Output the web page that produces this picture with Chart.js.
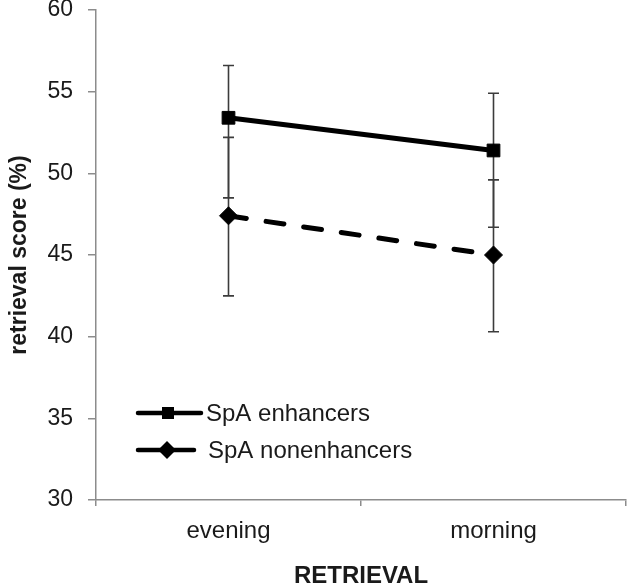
<!DOCTYPE html>
<html>
<head>
<meta charset="utf-8">
<script src="https://cdn.jsdelivr.net/npm/chart.js@4.4.1/dist/chart.umd.min.js"></script>
<style>
  html, body { margin: 0; padding: 0; background: #ffffff; }
  #wrap { width: 628px; height: 584px; }
</style>
</head>
<body>
<div id="wrap"><canvas id="c" width="628" height="584"></canvas></div>
<script>
// ---- data ----
const categories = ['evening', 'morning'];
const seriesNames = ['SpA enhancers', 'SpA nonenhancers'];
const enhancers = [53.4, 51.4];
const enhancersErrHigh = [56.6, 54.9];
const enhancersErrLow = [48.5, 46.7];
const nonenhancers = [47.4, 45.0];
const nonenhancersErrHigh = [52.2, 49.6];
const nonenhancersErrLow = [42.5, 40.3];
const yTicks = [30, 35, 40, 45, 50, 55, 60];
const xTitle = 'RETRIEVAL';
const yTitle = 'retrieval score (%)';

const errHigh = [enhancersErrHigh, nonenhancersErrHigh];
const errLow = [enhancersErrLow, nonenhancersErrLow];

const FONT = "'Liberation Sans', Arial, sans-serif";
const AXIS_GRAY = '#8c8c8c';
const TEXT = '#1a1a1a';

const errorBars = {
  id: 'errorBars',
  beforeDatasetsDraw(chart) {
    const ctx = chart.ctx;
    const y = chart.scales.y;
    ctx.save();
    ctx.strokeStyle = '#3c3c3c';
    ctx.lineWidth = 1.6;
    chart.data.datasets.forEach((ds, di) => {
      const meta = chart.getDatasetMeta(di);
      meta.data.forEach((pt, i) => {
        const x = pt.x;
        const yh = y.getPixelForValue(errHigh[di][i]);
        const yl = y.getPixelForValue(errLow[di][i]);
        ctx.beginPath();
        ctx.moveTo(x, yh); ctx.lineTo(x, yl);
        ctx.moveTo(x - 5.5, yh); ctx.lineTo(x + 5.5, yh);
        ctx.moveTo(x - 5.5, yl); ctx.lineTo(x + 5.5, yl);
        ctx.stroke();
      });
    });
    ctx.restore();
  }
};

const customLegend = {
  id: 'customLegend',
  afterDraw(chart) {
    const ctx = chart.ctx;
    const L = chart.chartArea.left;
    ctx.save();
    ctx.font = '24px ' + FONT;
    ctx.fillStyle = TEXT;
    ctx.textBaseline = 'middle';
    ctx.textAlign = 'left';
    // row 1
    let yy = 413;
    ctx.strokeStyle = '#000';
    ctx.lineWidth = 4.5;
    ctx.lineCap = 'round';
    ctx.beginPath(); ctx.moveTo(L + 42, yy); ctx.lineTo(L + 105, yy); ctx.stroke();
    ctx.fillStyle = '#000';
    ctx.fillRect(L + 72 - 6, yy - 6, 12, 12);
    ctx.fillStyle = TEXT;
    ctx.fillText(seriesNames[0], L + 110, yy + 1);
    // row 2
    yy = 450;
    ctx.beginPath(); ctx.moveTo(L + 42, yy); ctx.lineTo(L + 98, yy); ctx.stroke();
    ctx.fillStyle = '#000';
    ctx.beginPath();
    ctx.moveTo(L + 71 - 9, yy); ctx.lineTo(L + 71, yy - 9);
    ctx.lineTo(L + 71 + 9, yy); ctx.lineTo(L + 71, yy + 9);
    ctx.closePath(); ctx.fill();
    ctx.fillStyle = TEXT;
    ctx.fillText(seriesNames[1], L + 112, yy + 1);
    ctx.restore();
  }
};

new Chart(document.getElementById('c'), {
  type: 'line',
  data: {
    labels: categories,
    datasets: [
      {
        label: seriesNames[0],
        data: enhancers,
        borderColor: '#000',
        backgroundColor: '#000',
        borderWidth: 5,
        pointStyle: 'rect',
        pointRadius: 9,
        pointBorderWidth: 1,
        pointHoverRadius: 9,
        tension: 0
      },
      {
        label: seriesNames[1],
        data: nonenhancers,
        borderColor: '#000',
        backgroundColor: '#000',
        borderWidth: 5,
        borderDash: [18, 20],
        borderCapStyle: 'round',
        pointStyle: 'rectRot',
        pointRadius: 9,
        pointBorderWidth: 1,
        pointHoverRadius: 9,
        tension: 0
      }
    ]
  },
  options: {
    responsive: false,
    animation: false,
    events: [],
    layout: { autoPadding: false, padding: { left: 0, right: 2, top: 0, bottom: 0 } },
    plugins: {
      legend: { display: false },
      tooltip: { enabled: false }
    },
    scales: {
      x: {
        type: 'category',
        offset: true,
        grid: { offset: true, display: true, drawOnChartArea: false, tickLength: 6, color: AXIS_GRAY, lineWidth: 1.5 },
        border: { display: true, color: AXIS_GRAY, width: 1.5 },
        ticks: { color: TEXT, font: { family: FONT, size: 24 }, padding: 11, maxRotation: 0 },
        title: { display: true, text: xTitle, color: TEXT, font: { family: FONT, size: 24, weight: 'bold', lineHeight: 0.6 }, padding: { top: 0, bottom: 0 } },
        afterFit: (s) => { s.height = 84; }
      },
      y: {
        type: 'linear',
        min: 30,
        max: 60,
        afterBuildTicks: (s) => { s.ticks = yTicks.map(v => ({ value: v })); },
        grid: { display: true, drawOnChartArea: false, tickLength: 8, color: AXIS_GRAY, lineWidth: 1.5 },
        border: { display: true, color: AXIS_GRAY, width: 1.5 },
        ticks: { color: TEXT, font: { family: FONT, size: 23, lineHeight: 0.9 }, padding: 15 },
        title: { display: true, text: yTitle, color: TEXT, font: { family: FONT, size: 23, weight: 'bold' }, padding: { top: 6, bottom: 0 } },
        afterFit: (s) => { s.width = 96; s.paddingTop = 10; s.paddingBottom = 10; }
      }
    }
  },
  plugins: [errorBars, customLegend]
});
</script>
</body>
</html>
